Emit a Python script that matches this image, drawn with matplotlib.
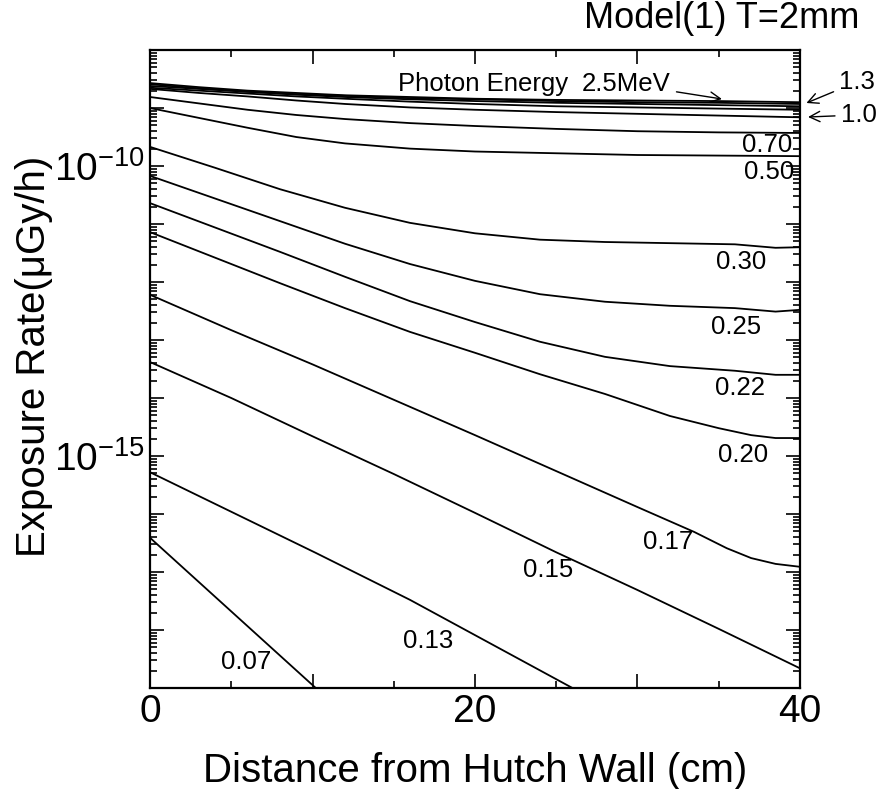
import matplotlib
matplotlib.use("Agg")
import matplotlib.pyplot as plt
from matplotlib.ticker import FixedLocator, FuncFormatter, LogLocator, NullFormatter
import numpy as np

plt.rcParams['font.family'] = ['Liberation Sans', 'DejaVu Sans']
plt.rcParams['mathtext.fontset'] = 'custom'
plt.rcParams['mathtext.rm'] = 'Liberation Sans'
plt.rcParams['mathtext.it'] = 'Liberation Sans:italic'

# distance from hutch wall (cm) vs log10 of exposure rate (uGy/h)
x_top = [0, 3, 6, 9, 12, 16, 20, 25, 30, 35, 40]
lg_250 = [-8.57, -8.64, -8.70, -8.74, -8.78, -8.81, -8.84, -8.86, -8.87, -8.88, -8.90]
lg_200 = [-8.59, -8.66, -8.72, -8.76, -8.79, -8.83, -8.85, -8.88, -8.90, -8.91, -8.93]
lg_150 = [-8.62, -8.67, -8.72, -8.77, -8.81, -8.85, -8.88, -8.91, -8.93, -8.95, -8.97]
lg_130 = [-8.65, -8.70, -8.75, -8.80, -8.84, -8.89, -8.93, -8.97, -8.99, -9.01, -9.03]
lg_100 = [-8.67, -8.74, -8.80, -8.87, -8.93, -8.99, -9.03, -9.07, -9.10, -9.13, -9.16]
lg_070 = [-8.81, -8.92, -9.03, -9.12, -9.19, -9.26, -9.31, -9.36, -9.40, -9.42, -9.43]
lg_050 = [-9.00, -9.17, -9.34, -9.50, -9.61, -9.70, -9.75, -9.78, -9.81, -9.82, -9.83]

x_mid = [0, 4, 8, 12, 16, 20, 24, 28, 32, 36, 38.5, 40]
lg_030 = [-9.67, -10.03, -10.40, -10.72, -10.98, -11.16, -11.27, -11.31, -11.33, -11.35, -11.41, -11.40]
lg_025 = [-10.17, -10.56, -10.95, -11.34, -11.69, -11.98, -12.21, -12.34, -12.41, -12.45, -12.51, -12.48]
lg_022 = [-10.64, -11.06, -11.48, -11.91, -12.33, -12.69, -13.03, -13.29, -13.45, -13.53, -13.60, -13.60]
x_020 = [0, 4, 8, 12, 16, 20, 24, 28, 32, 35, 37, 38.5, 40]
lg_020 = [-11.14, -11.58, -12.02, -12.45, -12.86, -13.22, -13.59, -13.93, -14.31, -14.52, -14.64, -14.69, -14.69]
x_017 = [0, 5, 10, 15, 20, 25, 30, 33.5, 35.5, 37, 38.5, 40]
lg_017 = [-12.22, -12.83, -13.42, -14.03, -14.64, -15.26, -15.88, -16.31, -16.59, -16.76, -16.86, -16.91]
x_015 = [0, 5, 10, 15, 20, 25, 30, 35, 40]
lg_015 = [-13.38, -14.00, -14.66, -15.31, -15.98, -16.66, -17.31, -17.98, -18.66]
x_013 = [0, 10.2, 16, 26]
lg_013 = [-15.28, -16.67, -17.48, -19.00]
x_007 = [0, 10.2]
lg_007 = [-16.41, -19.00]

curves = [(x_top, lg_250), (x_top, lg_200), (x_top, lg_150), (x_top, lg_130),
          (x_top, lg_100), (x_top, lg_070), (x_top, lg_050),
          (x_mid, lg_030), (x_mid, lg_025), (x_mid, lg_022), (x_020, lg_020),
          (x_017, lg_017), (x_015, lg_015), (x_013, lg_013), (x_007, lg_007)]

# energy labels placed next to their curves (x cm, rate)
labels = ["0.70", "0.50", "0.30", "0.25", "0.22", "0.20", "0.17", "0.15", "0.13", "0.07"]
label_x = [38.0, 38.1, 36.4, 36.1, 36.3, 36.5, 31.9, 24.5, 17.1, 5.9]
label_y = [2.3e-10, 7.9e-11, 2.2e-12, 1.67e-13, 1.5e-14, 1.04e-15, 3.3e-17, 1.08e-17, 6.5e-19, 2.8e-19]

fig = plt.figure(figsize=(8.8, 7.89), dpi=100)
ax = fig.add_axes([0.1705, 0.128, 0.7385, 0.8086])

for xs, lg in curves:
    ax.plot(xs, 10.0 ** np.array(lg), color="black", lw=1.3, solid_joinstyle="round")

ax.set_yscale("log")
ax.set_xlim(0, 40)
ax.set_ylim(1e-19, 1e-8)

ax.xaxis.set_major_locator(FixedLocator([0, 10, 20, 30, 40]))
ax.xaxis.set_minor_locator(FixedLocator([5, 15, 25, 35]))
ax.xaxis.set_major_formatter(FuncFormatter(lambda v, p: "%d" % v if v in (0, 20, 40) else ""))
ax.yaxis.set_major_locator(LogLocator(base=10, numticks=20))
ax.yaxis.set_minor_locator(LogLocator(base=10, subs=np.arange(2, 10), numticks=20))
ax.yaxis.set_minor_formatter(NullFormatter())

def ylab(v, p):
    e = int(round(np.log10(v)))
    return r"$\mathregular{10^{%d}}$" % e if e in (-10, -15) else ""
ax.yaxis.set_major_formatter(FuncFormatter(ylab))

ax.tick_params(which="both", direction="in", top=True, right=True, width=1.2)
ax.tick_params(which="major", length=10, labelsize=28, pad=4)
ax.tick_params(which="minor", length=5)
for s in ax.spines.values():
    s.set_linewidth(1.6)

ax.set_xlabel("Distance from Hutch Wall (cm)", fontsize=29, labelpad=16)
ax.set_ylabel("Exposure Rate(\u03bcGy/h)", fontsize=29)
ax.yaxis.set_label_coords(-0.15, 0.52)
fig.text(0.82, 0.9645, "Model(1) T=2mm", fontsize=26, ha="center", va="baseline")

for t, lx, ly in zip(labels, label_x, label_y):
    ax.text(lx, ly, t, fontsize=18.5, ha="center", va="center")

arrow = dict(arrowstyle="->", lw=1.0, color="black", shrinkA=2, shrinkB=0)
ax.text(20.5, 2.6e-9, "Photon Energy", fontsize=18.5, ha="center", va="center")
ax.annotate("2.5MeV", xy=(35.2, 1.43e-9), xytext=(26.6, 2.6e-9), fontsize=18.5,
            va="center", ha="left", arrowprops=arrow)
ax.annotate("1.3", xy=(40.4, 1.22e-9), xytext=(42.4, 2.8e-9), fontsize=18.5,
            va="center", ha="left", annotation_clip=False, arrowprops=arrow)
ax.annotate("1.0", xy=(40.5, 7.0e-10), xytext=(42.5, 7.6e-10), fontsize=18.5,
            va="center", ha="left", annotation_clip=False, arrowprops=arrow)

fig.savefig("out.png", dpi=100)
